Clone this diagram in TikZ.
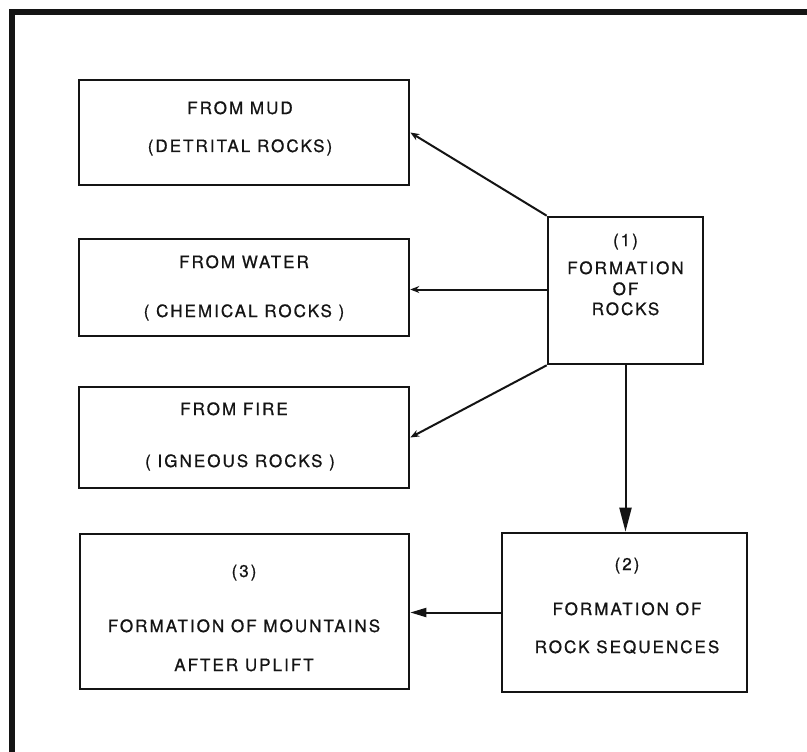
\documentclass[tikz,border=0pt]{standalone}
\usepackage{fontspec}
\setmainfont{TeX Gyre Heros}
\newfontfamily\labfont[LetterSpace=12,FakeBold=0.8]{TeX Gyre Heros}
\usetikzlibrary{arrows.meta}
\definecolor{ink}{HTML}{141414}
\tikzset{
  box/.style={draw=ink, line width=2.6pt, rectangle, inner sep=0pt},
  txt/.style={inner sep=0pt, text height=12pt, text depth=0pt, text=ink, font=\fontsize{17}{20}\selectfont\labfont},
  thin/.style={draw=ink, line width=2pt, -{Stealth[length=9pt,width=7pt]}},
  bigarr/.style={draw=ink, line width=2pt, -{Triangle[length=24pt,width=12pt]}},
  midarr/.style={draw=ink, line width=2pt, -{Triangle[length=16pt,width=9pt]}}
}
\begin{document}
\begin{tikzpicture}[x=1pt,y=-1pt]
\useasboundingbox (0,0) rectangle (807,752);
\fill[white] (0,0) rectangle (807,752);
% outer frame
\draw[ink, line width=5.5pt] (12,770) -- (12,12) -- (820,12);

% boxes
\node[box, minimum width=330pt, minimum height=105pt] (mud) at (244,132.5) {};
\node[box, minimum width=330pt, minimum height=97pt] (water) at (244,287.5) {};
\node[box, minimum width=330pt, minimum height=101pt] (fire) at (244,437.5) {};
\node[box, minimum width=155pt, minimum height=147pt] (one) at (625.5,290.5) {};
\node[box, minimum width=245pt, minimum height=159pt] (two) at (624.5,612.5) {};
\node[box, minimum width=329pt, minimum height=155pt] (three) at (244.5,611.5) {};

% texts
\node[txt] (mudA) at (240,108) {FROM MUD};
\node[txt] (mudB) at (240,146) {(DETRITAL ROCKS)};
\node[txt] (watA) at (244,262) {FROM WATER};
\node[txt] (watB) at (244,311) {( CHEMICAL ROCKS )};
\node[txt] (firA) at (234,409) {FROM FIRE};
\node[txt] (firB) at (240,461) {( IGNEOUS ROCKS )};
\node[txt] (oneA) at (625.5,240) {(1)};
\node[txt] (oneB) at (625.5,268) {FORMATION};
\node[txt] (oneC) at (625.5,289) {OF};
\node[txt] (oneD) at (625.5,309) {ROCKS};
\node[txt] (twoA) at (627,564) {(2)};
\node[txt] (twoB) at (627,609) {FORMATION OF};
\node[txt] (twoC) at (627,647) {ROCK SEQUENCES};
\node[txt] (thrA) at (244,571) {(3)};
\node[txt] (thrB) at (244,626) {FORMATION OF MOUNTAINS};
\node[txt] (thrC) at (244,665) {AFTER UPLIFT};

% connectors
\draw[thin] (one.north west) -- (mud.east);
\draw[thin] ([yshift=1pt]one.west) -- ([yshift=1pt]one.west -| water.east);
\draw[thin] (one.south west) -- (fire.east);
\draw[bigarr] (one.south) -- (one.south |- two.north);
\draw[midarr] (two.west) -- (two.west -| three.east);
\end{tikzpicture}
\end{document}
